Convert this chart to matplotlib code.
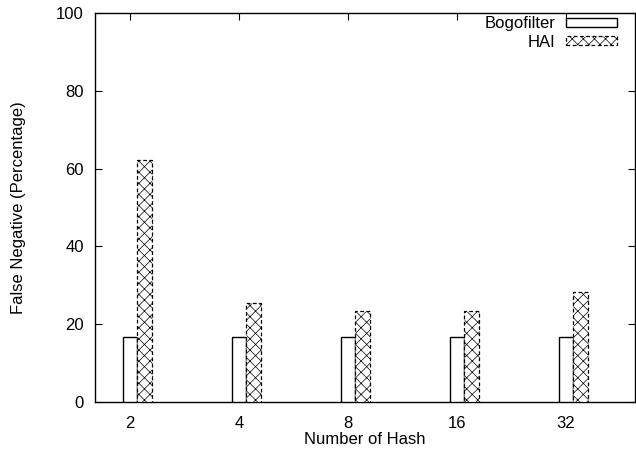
import matplotlib
matplotlib.use("Agg")
import matplotlib.pyplot as plt
import numpy as np

plt.rcParams['font.family'] = ['Liberation Sans', 'DejaVu Sans']
plt.rcParams['hatch.linewidth'] = 0.5

categories = ['2', '4', '8', '16', '32']
bogofilter = [16.8, 16.8, 16.8, 16.8, 16.8]
hai = [62.2, 25.5, 23.5, 23.4, 28.4]
yticks = [0, 20, 40, 60, 80, 100]

fig = plt.figure(figsize=(6.36, 4.58), dpi=100)
ax = fig.add_axes([95/636, 56/458, 540/636, 389/458])

x = np.arange(len(categories))
w = 0.135
ax.bar(x, bogofilter, w, facecolor='white', edgecolor='black', linewidth=1.0,
       label='Bogofilter', zorder=3)
ax.bar(x + w, hai, w, facecolor='white', edgecolor='black', linewidth=0.9,
       linestyle=(0, (3, 2)), hatch='xxx', label='HAI', zorder=3)

ax.set_xlim(-0.321, 4.633)
ax.set_ylim(0, 100)
ax.set_xticks(x)
ax.set_xticklabels(categories)
ax.set_yticks(yticks)
ax.tick_params(direction='in', length=5, width=0.8, labelsize=12,
               top=True, right=True, bottom=False, pad=10)
ax.tick_params(axis='y', pad=8)
for s in ax.spines.values():
    s.set_linewidth(1.0)

ax.set_xlabel('Number of Hash', fontsize=12)
ax.set_ylabel('False Negative (Percentage)', fontsize=12)
ax.xaxis.set_label_coords(0.5, (402 - 440) / 389)
ax.xaxis.label.set_va('center')
ax.yaxis.set_label_coords((19 - 95) / 540, 0.5)
ax.yaxis.label.set_va('center')

leg = ax.legend(loc='upper right', frameon=False, markerfirst=False,
                fontsize=12, handlelength=3.05, handleheight=0.45,
                labelspacing=0.22, borderaxespad=0.0, borderpad=0.0,
                handletextpad=0.66,
                bbox_to_anchor=((617 - 95) / 540, (402 - 16) / 389))

fig.savefig('out.png', dpi=100)
